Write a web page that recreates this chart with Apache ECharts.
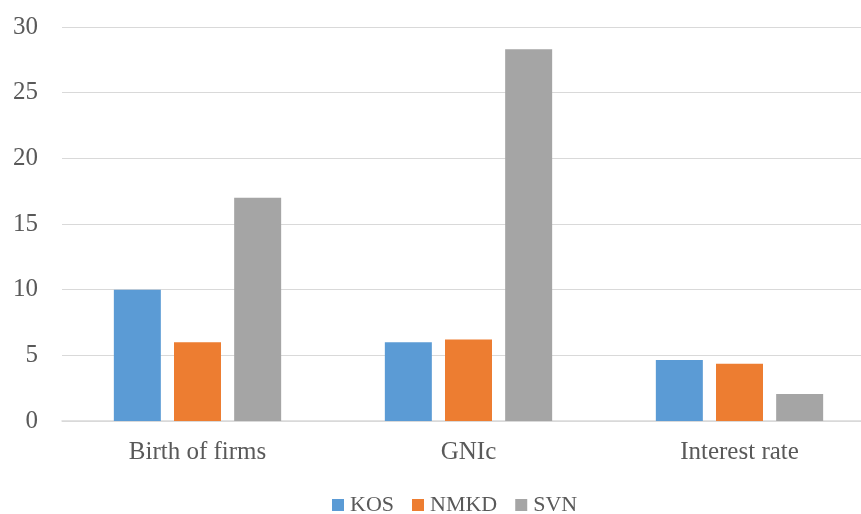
<!DOCTYPE html>
<html>
<head>
<meta charset="utf-8">
<script src="https://cdn.jsdelivr.net/npm/echarts@6/dist/echarts.min.js"></script>
<style>
html,body{margin:0;padding:0;background:#fff;}
#chart{width:861px;height:514px;}
</style>
</head>
<body>
<div id="chart"></div>
<script>
const categories = ['Birth of firms', 'GNIc', 'Interest rate'];
const seriesNames = ['KOS', 'NMKD', 'SVN'];
const kos = [10, 6, 4.65];
const nmkd = [6, 6.2, 4.35];
const svn = [17, 28.3, 2.05];
const colors = ['#5B9BD5', '#ED7D31', '#A5A5A5'];
const yTicks = { min: 0, max: 30, interval: 5 };

const font = 'Liberation Serif';
const chart = echarts.init(document.getElementById('chart'));
const values = [kos, nmkd, svn];
chart.setOption({
  animation: false,
  color: colors,
  textStyle: { fontFamily: font },
  grid: { left: 62, width: 813, top: 27, height: 394, outerBoundsMode: 'none', containLabel: false },
  legend: {
    top: 489,
    left: 327,
    itemWidth: 12,
    itemHeight: 12,
    itemGap: 18,
    icon: 'rect',
    textStyle: { fontFamily: font, fontSize: 22, color: '#595959', padding: [0, 0, 0, 1] },
    data: seriesNames
  },
  xAxis: {
    type: 'category',
    data: categories,
    axisTick: { show: false },
    axisLine: { lineStyle: { color: '#d9d9d9', width: 1.5 } },
    axisLabel: { fontFamily: font, fontSize: 25, color: '#595959', margin: 19 }
  },
  yAxis: {
    type: 'value',
    min: yTicks.min,
    max: yTicks.max,
    interval: yTicks.interval,
    axisLine: { show: false },
    axisTick: { show: false },
    splitLine: { lineStyle: { color: '#d9d9d9', width: 1 } },
    axisLabel: { fontFamily: font, fontSize: 25, color: '#595959', margin: 24 }
  },
  series: seriesNames.map((n, i) => ({
    name: n,
    type: 'bar',
    data: values[i],
    barWidth: 47,
    barGap: '28%',
    itemStyle: { color: colors[i] }
  }))
});
</script>
</body>
</html>
